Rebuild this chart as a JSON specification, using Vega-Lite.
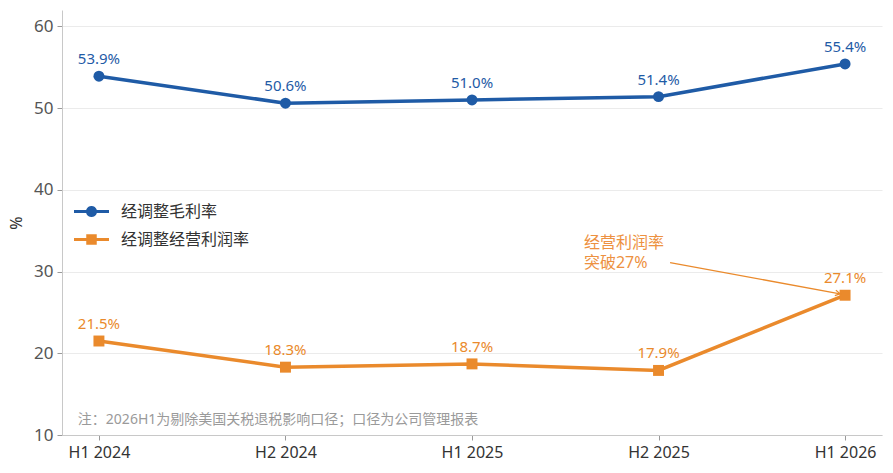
{
  "$schema": "https://vega.github.io/schema/vega-lite/v6.json",
  "width": 820,
  "height": 425,
  "autosize": "none",
  "padding": {"left": 62, "top": 10, "right": 11, "bottom": 38},
  "background": "white",
  "datasets": {
    "margins": [
      {"period": "H1 2024", "idx": 0, "series": "经调整毛利率", "value": 53.9, "label": "53.9%"},
      {"period": "H2 2024", "idx": 1, "series": "经调整毛利率", "value": 50.6, "label": "50.6%"},
      {"period": "H1 2025", "idx": 2, "series": "经调整毛利率", "value": 51.0, "label": "51.0%"},
      {"period": "H2 2025", "idx": 3, "series": "经调整毛利率", "value": 51.4, "label": "51.4%"},
      {"period": "H1 2026", "idx": 4, "series": "经调整毛利率", "value": 55.4, "label": "55.4%"},
      {"period": "H1 2024", "idx": 0, "series": "经调整经营利润率", "value": 21.5, "label": "21.5%"},
      {"period": "H2 2024", "idx": 1, "series": "经调整经营利润率", "value": 18.3, "label": "18.3%"},
      {"period": "H1 2025", "idx": 2, "series": "经调整经营利润率", "value": 18.7, "label": "18.7%"},
      {"period": "H2 2025", "idx": 3, "series": "经调整经营利润率", "value": 17.9, "label": "17.9%"},
      {"period": "H1 2026", "idx": 4, "series": "经调整经营利润率", "value": 27.1, "label": "27.1%"}
    ],
    "callout": [
      {"x": 2.6, "y": 33.55, "label": "经营利润率\n突破27%"}
    ],
    "arrow": [
      {"x": 3.062, "y": 31.08, "x2": 3.973, "y2": 27.28}
    ],
    "note": [
      {"x": -0.113, "y": 11.84, "label": "注：2026H1为剔除美国关税退税影响口径；口径为公司管理报表"}
    ]
  },
  "encoding": {
    "x": {
      "field": "idx",
      "type": "quantitative",
      "scale": {"domain": [-0.198, 4.198], "nice": false, "zero": false},
      "axis": {
        "title": null,
        "values": [0, 1, 2, 3, 4],
        "labelExpr": "['H1 2024','H2 2024','H1 2025','H2 2025','H1 2026'][datum.value]",
        "grid": false
      }
    },
    "y": {
      "field": "value",
      "type": "quantitative",
      "scale": {"domain": [10, 62], "nice": false, "zero": false},
      "axis": {
        "title": "%",
        "values": [10, 20, 30, 40, 50, 60],
        "grid": true
      }
    }
  },
  "layer": [
    {
      "data": {"name": "margins"},
      "mark": {"type": "line", "strokeWidth": 3.5},
      "encoding": {
        "color": {
          "field": "series",
          "type": "nominal",
          "scale": {
            "domain": ["经调整毛利率", "经调整经营利润率"],
            "range": ["#1f5ba6", "#ea8a2c"]
          },
          "legend": {
            "title": null,
            "orient": "none",
            "legendX": 12,
            "legendY": 184,
            "symbolSize": 1225,
            "labelFontSize": 16,
            "labelColor": "#333333",
            "labelOffset": 12,
            "rowPadding": 2,
            "encode": {
              "symbols": {
                "update": {
                  "shape": {"signal": "datum.value === '经调整毛利率' ? 'M-1,-0.09L-0.307,-0.09A0.32,0.32 0 0 1 0.307,-0.09L1,-0.09L1,0.09L0.307,0.09A0.32,0.32 0 0 1 -0.307,0.09L-1,0.09Z' : 'M-1,-0.09L-0.3,-0.09L-0.3,-0.3L0.3,-0.3L0.3,-0.09L1,-0.09L1,0.09L0.3,0.09L0.3,0.3L-0.3,0.3L-0.3,0.09L-1,0.09Z'"},
                  "fill": {"signal": "scale('color', datum.value)"},
                  "stroke": {"value": "transparent"},
                  "strokeWidth": {"value": 0},
                  "opacity": {"value": 1}
                }
              }
            }
          }
        }
      }
    },
    {
      "data": {"name": "margins"},
      "transform": [{"filter": "datum.series === '经调整毛利率'"}],
      "mark": {"type": "point", "shape": "circle", "filled": true, "opacity": 1, "size": 120},
      "encoding": {
        "color": {"field": "series", "type": "nominal", "legend": null}
      }
    },
    {
      "data": {"name": "margins"},
      "transform": [{"filter": "datum.series === '经调整经营利润率'"}],
      "mark": {"type": "point", "shape": "square", "filled": true, "opacity": 1, "size": 120},
      "encoding": {
        "color": {"field": "series", "type": "nominal", "legend": null}
      }
    },
    {
      "data": {"name": "margins"},
      "mark": {"type": "text", "dy": -17, "fontSize": 15, "baseline": "middle"},
      "encoding": {
        "text": {"field": "label"},
        "color": {"field": "series", "type": "nominal", "legend": null}
      }
    },
    {
      "data": {"name": "callout"},
      "mark": {"type": "text", "align": "left", "baseline": "middle", "fontSize": 16, "color": "#ed9141", "lineBreak": "\n", "lineHeight": 20},
      "encoding": {
        "x": {"field": "x", "type": "quantitative"},
        "y": {"field": "y", "type": "quantitative"},
        "text": {"field": "label"}
      }
    },
    {
      "data": {"name": "arrow"},
      "mark": {"type": "rule", "color": "#ea8a2c", "strokeWidth": 1.3},
      "encoding": {
        "x": {"field": "x", "type": "quantitative"},
        "y": {"field": "y", "type": "quantitative"},
        "x2": {"field": "x2"},
        "y2": {"field": "y2"}
      }
    },
    {
      "data": {"name": "arrow"},
      "mark": {"type": "point", "shape": "M-1,-0.6L0,0L-1,0.6", "filled": false, "size": 90, "angle": 10.3, "color": "#ea8a2c", "strokeWidth": 1.3, "opacity": 1},
      "encoding": {
        "x": {"field": "x2", "type": "quantitative"},
        "y": {"field": "y2", "type": "quantitative"}
      }
    },
    {
      "data": {"name": "note"},
      "mark": {"type": "text", "align": "left", "baseline": "middle", "fontSize": 14, "color": "#9a9a9a"},
      "encoding": {
        "x": {"field": "x", "type": "quantitative"},
        "y": {"field": "y", "type": "quantitative"},
        "text": {"field": "label"}
      }
    }
  ],
  "config": {
    "font": "Noto Sans, Noto Sans CJK SC",
    "view": {"stroke": null},
    "axis": {
      "domainColor": "#c8c8c8",
      "tickColor": "#9a9a9a",
      "tickSize": 5,
      "gridColor": "#ebebeb",
      "gridWidth": 1,
      "labelFontSize": 16,
      "labelColor": "#444444",
      "titleFontSize": 16,
      "titleColor": "#333333",
      "titleFontWeight": "normal"
    },
    "axisY": {
      "labelFontSize": 17,
      "labelColor": "#555555",
      "labelPadding": 4,
      "titlePadding": 9
    },
    "axisX": {
      "labelPadding": 4,
      "labelColor": "#333333"
    }
  }
}
